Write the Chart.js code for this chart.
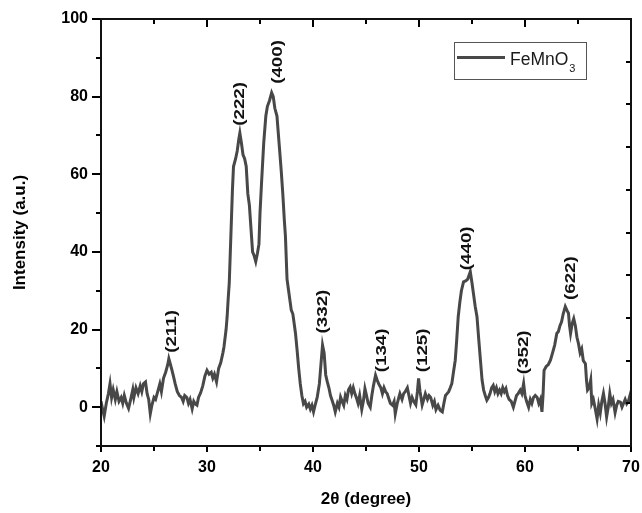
<!DOCTYPE html>
<html>
<head>
<meta charset="utf-8">
<script src="https://cdn.jsdelivr.net/npm/chart.js@4/dist/chart.umd.min.js"></script>
<style>
  html, body { margin: 0; padding: 0; background: #fff; }
  #wrap { width: 642px; height: 513px; }
</style>
</head>
<body>
<div id="wrap"><canvas id="c" width="642" height="513"></canvas></div>
<script>
// ---- data ----
const twoTheta = [20.0,20.15,20.3,20.5,20.7,20.85,21.0,21.15,21.35,21.5,21.7,21.9,22.05,22.2,22.4,22.6,22.8,23.0,23.1,23.3,23.5,23.7,23.85,24.0,24.2,24.35,24.5,24.65,24.8,25.0,25.15,25.35,25.55,25.7,25.9,26.1,26.3,26.4,26.55,26.7,26.85,27.0,27.2,27.4,27.6,27.75,27.9,28.1,28.25,28.4,28.6,28.75,28.9,29.05,29.2,29.4,29.6,29.8,30.0,30.2,30.4,30.55,30.7,30.9,31.1,31.3,31.5,31.6,31.8,31.9,32.0,32.1,32.2,32.3,32.4,32.5,32.7,32.85,33.0,33.1,33.25,33.4,33.55,33.7,33.85,34.0,34.15,34.3,34.45,34.6,34.75,34.9,35.0,35.15,35.35,35.55,35.7,35.9,36.1,36.25,36.4,36.6,36.8,37.0,37.15,37.3,37.4,37.55,37.7,37.85,37.95,38.1,38.2,38.35,38.5,38.65,38.8,38.95,39.1,39.25,39.4,39.6,39.75,39.9,40.05,40.2,40.4,40.6,40.75,40.9,41.05,41.2,41.35,41.5,41.65,41.8,41.95,42.1,42.3,42.45,42.6,42.75,42.9,43.05,43.2,43.35,43.5,43.65,43.8,43.95,44.1,44.25,44.4,44.6,44.75,44.9,45.05,45.2,45.4,45.55,45.7,45.9,46.05,46.2,46.4,46.55,46.7,46.85,47.0,47.1,47.3,47.5,47.65,47.76,47.95,48.1,48.2,48.4,48.55,48.7,48.9,49.05,49.2,49.35,49.5,49.7,49.85,49.96,50.1,50.3,50.45,50.6,50.8,50.95,51.1,51.3,51.45,51.6,51.8,52.0,52.2,52.35,52.5,52.65,52.8,52.95,53.1,53.25,53.42,53.55,53.7,53.85,54.0,54.2,54.4,54.6,54.84,55.0,55.15,55.3,55.47,55.65,55.8,55.95,56.1,56.25,56.4,56.55,56.7,56.85,57.0,57.15,57.3,57.45,57.6,57.75,57.9,58.05,58.2,58.35,58.5,58.7,58.9,59.05,59.2,59.35,59.55,59.7,59.87,60.0,60.15,60.34,60.5,60.65,60.8,60.97,61.15,61.3,61.45,61.6,61.7,61.8,62.0,62.2,62.4,62.6,62.8,63.0,63.15,63.3,63.45,63.6,63.8,63.95,64.1,64.2,64.3,64.45,64.6,64.75,64.9,65.05,65.2,65.35,65.5,65.7,65.8,65.9,66.05,66.2,66.3,66.45,66.6,66.8,66.95,67.1,67.25,67.4,67.55,67.7,67.85,68.0,68.15,68.3,68.5,68.65,68.8,69.0,69.15,69.3,69.45,69.6,69.75,69.9,70.0];
const intensity = [1.5,-0.5,-2.3,1.0,3.5,6.0,2.5,4.5,2.0,4.0,1.5,2.5,1.0,3.0,1.0,-0.3,2.0,4.5,2.5,5.0,3.5,5.5,4.0,6.0,6.5,3.5,2.0,-1.7,0.5,2.5,2.0,4.0,6.0,4.0,7.5,9.0,11.0,12.5,11.0,9.5,7.8,6.0,4.0,3.0,2.5,1.5,3.0,2.5,1.0,2.0,-0.4,1.5,0.8,0.5,2.5,3.7,5.5,8.0,9.5,8.5,9.0,7.5,8.5,6.5,10.0,11.5,14.0,15.5,20.0,23.3,28.0,32.0,40.0,48.0,56.0,62.0,64.0,66.0,69.0,70.6,68.0,65.0,64.0,62.0,55.0,52.0,46.0,40.0,39.0,37.5,39.5,42.0,50.0,58.0,68.0,75.0,77.5,79.0,81.0,80.0,77.0,75.0,68.0,61.0,55.0,48.0,44.0,33.0,30.0,27.0,25.0,24.0,22.0,19.0,14.7,10.0,6.0,3.0,0.9,1.5,0.0,0.8,-0.5,0.5,-1.2,0.5,2.6,6.0,11.0,16.0,14.0,8.3,6.5,5.0,3.0,1.8,0.5,-1.2,1.0,0.0,2.6,1.5,0.5,3.0,2.0,4.5,5.2,3.5,5.0,3.5,2.4,1.0,3.0,-0.6,1.5,4.8,3.0,1.0,0.0,3.0,5.5,8.2,7.0,6.0,5.0,3.5,5.0,4.0,3.5,2.6,1.0,0.5,1.5,-1.7,1.0,2.5,3.5,2.0,3.5,4.0,5.0,3.0,1.0,2.5,1.5,0.6,4.0,7.4,4.0,0.6,2.0,3.5,2.0,3.0,2.5,0.5,1.5,-0.6,0.5,-0.8,-1.2,1.0,3.0,3.5,4.0,5.0,6.1,9.0,12.1,17.0,23.3,27.0,30.0,32.3,32.5,33.0,34.9,32.0,29.0,26.0,23.3,17.0,12.0,7.0,4.4,3.0,1.8,2.5,3.5,5.0,5.6,4.0,5.0,3.5,4.4,3.5,5.0,4.0,4.8,3.0,2.0,1.5,0.0,1.5,3.0,3.5,4.4,3.5,6.1,3.0,1.5,0.0,2.0,1.0,2.5,3.0,2.5,1.0,2.0,-1.2,3.0,9.5,10.5,11.0,12.1,14.0,16.0,19.0,19.5,21.0,22.0,24.0,25.9,25.0,24.2,21.0,19.0,21.5,22.8,21.0,18.0,16.3,14.0,15.0,12.0,11.2,7.0,4.4,5.0,7.0,1.0,2.0,0.0,-3.0,0.5,-1.5,1.5,3.5,1.0,-2.5,0.0,3.5,1.0,2.0,-1.4,0.5,1.5,1.3,0.0,1.0,2.0,0.9,1.5,3.0,1.0];

const peakLabels = ["(211)","(222)","(400)","(332)","(134)","(125)","(440)","(352)","(622)"];
const peakX      = [26.7, 33.1, 36.7, 40.9, 46.5, 50.4, 54.5, 59.9, 64.3];
const peakY      = [14.0, 72.5, 83.3, 19.0, 9.0, 9.0, 35.3, 8.5, 27.6];

const seriesName = "FeMnO";
const seriesSub = "3";
const xTitle = "2\u03B8 (degree)";
const yTitle = "Intensity (a.u.)";

const xMin = 20, xMax = 70, xStep = 5, xLabelEvery = 10;
const yMin = -10, yMax = 100, yStep = 10, yLabelEvery = 20;

const FONT = "'Liberation Sans', Arial, Helvetica, sans-serif";
const LINE = "#484848";

const ticksPlugin = {
  id: 'originTicks',
  afterDraw(chart) {
    const ctx = chart.ctx;
    const a = chart.chartArea;
    const xs = chart.scales.x, ys = chart.scales.y, rs = chart.scales.y2;
    ctx.save();
    ctx.strokeStyle = '#000';
    ctx.lineWidth = 2;
    ctx.lineCap = 'butt';
    xs.ticks.forEach(t => {
      const px = Math.round(xs.getPixelForValue(t.value));
      const major = t.value % xLabelEvery === 0;
      ctx.beginPath();
      ctx.moveTo(px, a.bottom);
      ctx.lineTo(px, a.bottom + (major ? 6 : 5));
      ctx.moveTo(px, a.top);
      ctx.lineTo(px, a.top + (major ? 8 : 5));
      ctx.stroke();
    });
    ys.ticks.forEach(t => {
      const py = Math.round(ys.getPixelForValue(t.value));
      const major = t.value % yLabelEvery === 0;
      ctx.beginPath();
      ctx.moveTo(a.left, py);
      ctx.lineTo(a.left - (major ? 9 : 5), py);
      ctx.stroke();
    });
    rs.ticks.forEach(t => {
      const py = Math.round(rs.getPixelForValue(t.value));
      ctx.beginPath();
      ctx.moveTo(a.right, py);
      ctx.lineTo(a.right - 5, py);
      ctx.stroke();
    });
    ctx.strokeStyle = '#111';
    ctx.strokeRect(a.left, a.top, a.right - a.left, a.bottom - a.top);

    // legend
    const lx = 454.5, ly = 42.5, lw = 132, lh = 37;
    ctx.lineWidth = 1;
    ctx.strokeStyle = '#555';
    ctx.strokeRect(lx, ly, lw, lh);
    ctx.strokeStyle = LINE;
    ctx.lineWidth = 3;
    ctx.beginPath();
    ctx.moveTo(457, 57.5);
    ctx.lineTo(505, 57.5);
    ctx.stroke();
    ctx.fillStyle = '#1a1a1a';
    ctx.textAlign = 'left';
    ctx.textBaseline = 'alphabetic';
    ctx.font = "17.5px " + FONT;
    ctx.fillText(seriesName, 510, 64.5);
    const w = ctx.measureText(seriesName).width;
    ctx.font = "11px " + FONT;
    ctx.fillText(seriesSub, 510 + w + 1, 71.5);
    ctx.restore();
  },
  afterDatasetsDraw(chart) {
    const ctx = chart.ctx;
    const xs = chart.scales.x, ys = chart.scales.y;
    ctx.save();
    ctx.fillStyle = '#111';
    ctx.font = "bold 15px " + FONT;
    ctx.textAlign = 'left';
    ctx.textBaseline = 'middle';
    peakLabels.forEach((lab, i) => {
      const px = xs.getPixelForValue(peakX[i]);
      const py = ys.getPixelForValue(peakY[i]);
      ctx.save();
      ctx.translate(px, py);
      ctx.rotate(-Math.PI / 2);
      ctx.scale(1.25, 1);
      ctx.fillText(lab, 0, 0);
      ctx.restore();
    });
    ctx.restore();
  }
};

new Chart(document.getElementById('c'), {
  type: 'line',
  data: {
    datasets: [{
      label: seriesName + "\u2083",
      data: twoTheta.map((x, i) => ({ x: x, y: intensity[i] })),
      borderColor: LINE,
      borderWidth: 3,
      pointRadius: 0,
      tension: 0,
      fill: false
    }]
  },
  options: {
    responsive: false,
    animation: false,
    devicePixelRatio: 1,
    layout: { padding: { top: 19, right: 11, left: 0, bottom: 0 } },
    plugins: { legend: { display: false }, tooltip: { enabled: false } },
    scales: {
      x: {
        type: 'linear', min: xMin, max: xMax,
        afterFit: s => { s.height = 67; s.paddingLeft = 0; s.paddingRight = 0; },
        grid: { display: false, drawTicks: false },
        border: { display: false },
        ticks: {
          stepSize: xStep, padding: 12, color: '#000',
          font: { family: FONT, size: 16, weight: 'bold' },
          maxRotation: 0,
          callback: v => (v % xLabelEvery === 0 ? v : '')
        },
        title: {
          display: true, text: xTitle, color: '#000',
          font: { family: FONT, size: 17, weight: 'bold' },
          padding: { top: 0, bottom: 3 }
        }
      },
      y: {
        type: 'linear', min: yMin, max: yMax,
        afterFit: s => { s.width = 101; s.paddingTop = 0; s.paddingBottom = 0; },
        grid: { display: false, drawTicks: false },
        border: { display: false },
        ticks: {
          stepSize: yStep, padding: 13, color: '#000',
          font: { family: FONT, size: 16, weight: 'bold' },
          callback: v => (v % yLabelEvery === 0 ? v : '')
        },
        title: {
          display: true, text: yTitle, color: '#000',
          font: { family: FONT, size: 17, weight: 'bold' },
          padding: { top: 10, bottom: 0 }
        }
      },
      y2: {
        type: 'linear', position: 'right', min: 0, max: 10,
        display: false,
        ticks: { stepSize: 1 }
      }
    }
  },
  plugins: [ticksPlugin]
});
</script>
</body>
</html>
